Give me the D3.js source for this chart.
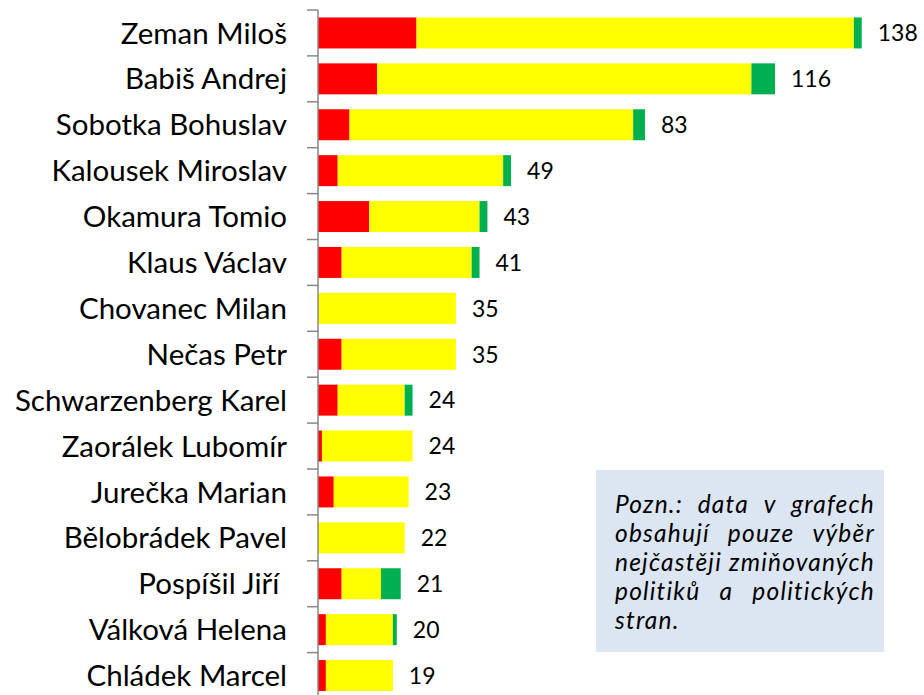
<!DOCTYPE html>
<html lang="cs">
<head>
<meta charset="utf-8" />
<title>Politici</title>
<script src="https://d3js.org/d3.v7.min.js"></script>
<style>
  body { margin: 0; background: #fff; }
  svg { display: block; }
  text { font-family: Lato, "Open Sans", sans-serif; fill: #000; }
</style>
</head>
<body>
<svg width="924" height="695"></svg>
<script>
// data
const names = ["Zeman Miloš", "Babiš Andrej", "Sobotka Bohuslav", "Kalousek Miroslav",
  "Okamura Tomio", "Klaus Václav", "Chovanec Milan", "Nečas Petr", "Schwarzenberg Karel",
  "Zaorálek Lubomír", "Jurečka Marian", "Bělobrádek Pavel", "Pospíšil Jiří ",
  "Válková Helena", "Chládek Marcel"];
const negative = [25, 15, 8, 5, 13, 6, 0, 6, 5, 1, 4, 0, 6, 2, 2];
const neutral  = [111, 95, 72, 42, 28, 33, 35, 29, 17, 23, 19, 22, 10, 17, 17];
const positive = [2, 6, 3, 2, 2, 2, 0, 0, 2, 0, 0, 0, 5, 1, 0];
const seriesKeys = ["negative", "neutral", "positive"];
const seriesColors = ["#ff0000", "#ffff00", "#00b050"];
const noteLines = ["Pozn.: data v grafech", "obsahují pouze výběr",
  "nejčastěji zmiňovaných", "politiků a politických", "stran."];

let svg = d3.select("svg");

let rows = names.map((n, i) => ({
  name: n, negative: negative[i], neutral: neutral[i], positive: positive[i],
  total: negative[i] + neutral[i] + positive[i]
}));

let x = d3.scaleLinear().domain([0, 140]).range([318, 318 + 140 * 3.94]);
let y = d3.scaleBand().domain(names).range([10, 10 + 15 * 45.9])
  .paddingInner(0.325).paddingOuter(0.1625);
let color = d3.scaleOrdinal().domain(seriesKeys).range(seriesColors);

let stacked = d3.stack().keys(seriesKeys)(rows);

svg.append("g")
  .selectAll("g")
  .data(stacked)
  .join("g")
  .attr("fill", d => color(d.key))
  .selectAll("rect")
  .data(d => d.filter(s => s[1] > s[0]))
  .join("rect")
  .attr("x", d => x(d[0]))
  .attr("width", d => x(d[1]) - x(d[0]))
  .attr("y", d => y(d.data.name))
  .attr("height", y.bandwidth());

// category axis with ticks between bars
let axis = svg.append("g").attr("stroke", "#888").attr("stroke-width", 1.5);
axis.append("line").attr("x1", x(0)).attr("x2", x(0)).attr("y1", 10).attr("y2", 695);
axis.selectAll("line.tick")
  .data(d3.range(names.length + 1))
  .join("line")
  .attr("class", "tick")
  .attr("x1", x(0) - 11).attr("x2", x(0))
  .attr("y1", i => 10 + i * y.step()).attr("y2", i => 10 + i * y.step());

// names
svg.append("g")
  .selectAll("text")
  .data(rows)
  .join("text")
  .attr("x", 287)
  .attr("y", d => y(d.name) + y.bandwidth() / 2)
  .attr("dy", "0.36em")
  .attr("text-anchor", "end")
  .style("white-space", "pre")
  .style("font-size", "29.5px")
  .text(d => d.name);

// totals
svg.append("g")
  .selectAll("text")
  .data(rows)
  .join("text")
  .attr("x", d => x(d.total) + 16)
  .attr("y", d => y(d.name) + y.bandwidth() / 2)
  .attr("dy", "0.36em")
  .style("font-size", "23px")
  .text(d => d.total);

// note box
let note = svg.append("g");
note.append("rect")
  .attr("x", 596).attr("y", 470).attr("width", 288).attr("height", 182)
  .attr("fill", "#dce6f2");

let left = 615, right = 875;
noteLines.forEach((line, li) => {
  let words = line.split(" ");
  let baseline = 513 + li * 29;
  let justify = li < noteLines.length - 1;
  let ts = words.map(w => note.append("text")
    .attr("y", baseline)
    .style("font-size", "24.5px")
    .style("font-style", "italic")
    .style("letter-spacing", "1.2px")
    .text(w));
  let widths = ts.map(t => t.node().getComputedTextLength());
  let total = d3.sum(widths);
  let gap = (justify && words.length > 1) ? (right - left - total) / (words.length - 1) : 6;
  let cx = left;
  ts.forEach((t, i) => { t.attr("x", cx); cx += widths[i] + gap; });
});
</script>
</body>
</html>
